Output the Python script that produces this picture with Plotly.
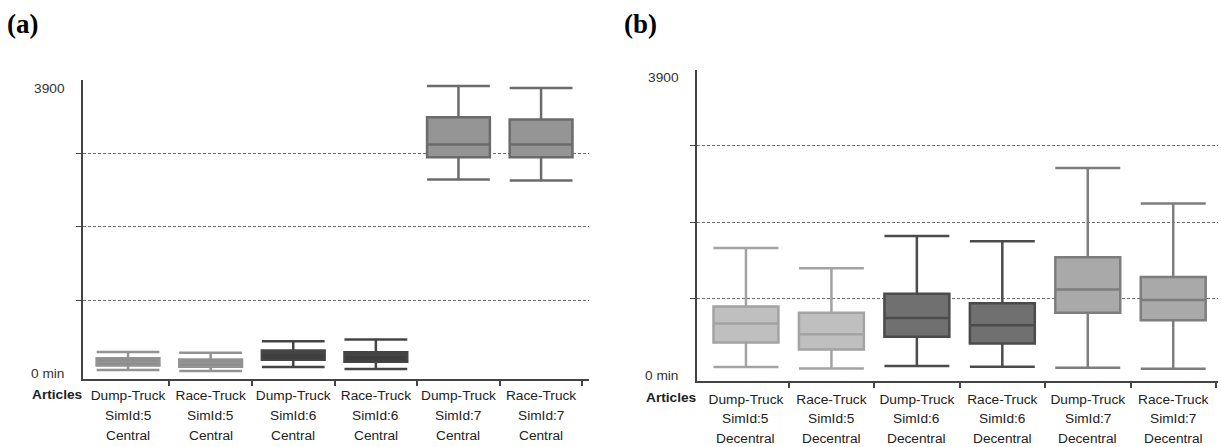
import plotly.graph_objects as go

W, H = 1221, 447

# ---------------- data ----------------
articles = ["Dump-Truck", "Race-Truck", "Dump-Truck", "Race-Truck", "Dump-Truck", "Race-Truck"]
sim_ids = ["SimId:5", "SimId:5", "SimId:6", "SimId:6", "SimId:7", "SimId:7"]
mode_a = "Central"
mode_b = "Decentral"

# panel (a) – Central (minutes)
a_low = [45, 31, 86, 58, 2649, 2635]
a_q1 = [105, 91, 186, 159, 2952, 2952]
a_med = [154, 143, 282, 249, 3129, 3129]
a_q3 = [204, 190, 313, 286, 3501, 3469]
a_high = [290, 282, 439, 463, 3928, 3901]

# panel (b) – Decentral (minutes)
b_low = [104, 87, 117, 109, 96, 83]
b_q1 = [426, 335, 500, 413, 817, 717]
b_med = [674, 535, 748, 652, 1121, 983]
b_q3 = [896, 817, 1065, 939, 1543, 1283]
b_high = [1665, 1400, 1821, 1752, 2712, 2248]

y_tick_vals = [0, 3900]
y_tick_text = ["0 min", "3900"]
grid_vals = [1000, 2000, 3000]

a_fill = ["#8b8b8b", "#8b8b8b", "#3e3e3e", "#3e3e3e", "#959595", "#959595"]
a_line = ["#939393", "#939393", "#454545", "#454545", "#6b6b6b", "#6b6b6b"]
b_fill = ["#bfbfbf", "#bfbfbf", "#707070", "#707070", "#a9a9a9", "#a9a9a9"]
b_line = ["#a3a3a3", "#a3a3a3", "#4b4b4b", "#4b4b4b", "#7d7d7d", "#7d7d7d"]

fig = go.Figure()

def add_boxes(low, q1, med, q3, high, fills, lines, xa, ya):
    for i in range(len(low)):
        fig.add_trace(go.Box(
            x=[i], lowerfence=[low[i]], q1=[q1[i]], median=[med[i]],
            q3=[q3[i]], upperfence=[high[i]],
            fillcolor=fills[i], line=dict(color=lines[i], width=2.5),
            whiskerwidth=1, width=0.76, boxpoints=False,
            xaxis=xa, yaxis=ya, showlegend=False,
        ))

add_boxes(a_low, a_q1, a_med, a_q3, a_high, a_fill, a_line, "x", "y")
add_boxes(b_low, b_q1, b_med, b_q3, b_high, b_fill, b_line, "x2", "y2")

FONT = "Liberation Sans, Arial, sans-serif"
FS = 13.7
AX = "#444444"

def xaxis(domain, rng, anchor, standoff):
    return dict(
        domain=domain, range=rng, anchor=anchor,
        showline=True, linecolor=AX, linewidth=1.5,
        tickmode="array", tickvals=list(range(6)), ticktext=articles,
        ticks="", ticklabelstandoff=standoff, showgrid=False, zeroline=False,
        tickfont=dict(family=FONT, size=FS, color="#222"),
        minor=dict(tickmode="array", tickvals=[i + 0.5 for i in range(6)],
                   ticks="outside", ticklen=5, tickcolor=AX, tickwidth=1.5,
                   showgrid=False),
        fixedrange=True,
    )

def yaxis(domain, rng, anchor):
    return dict(
        domain=domain, range=rng, anchor=anchor,
        showline=True, linecolor=AX, linewidth=1.5,
        tickmode="array", tickvals=y_tick_vals, ticktext=y_tick_text,
        ticks="", ticklabelstandoff=14,
        showgrid=False, zeroline=False,
        tickfont=dict(family=FONT, size=FS, color="#333"),
        minor=dict(tickmode="array", tickvals=grid_vals, ticks="outside",
                   ticklen=5, tickcolor=AX, tickwidth=1,
                   showgrid=True, gridcolor="#6e6e6e", griddash="3px,2px",
                   gridwidth=1),
        fixedrange=True,
    )

fig.update_layout(
    width=W, height=H,
    margin=dict(l=0, r=0, t=0, b=0),
    paper_bgcolor="white", plot_bgcolor="white",
    boxmode="overlay",
    xaxis=xaxis([83 / W, 589 / W], [-0.545, 5.58], "y", 3),
    yaxis=yaxis([1 - 381 / H, 1 - 80 / H], [-82, 4014], "x"),
    xaxis2=xaxis([697 / W, 1218 / W], [-0.573, 5.524], "y2", 5),
    yaxis2=yaxis([1 - 383 / H, 1 - 70 / H], [-82, 3999], "x2"),
)

ann = []
for i in range(6):
    for xr, mode, y1, y2 in (("x", mode_a, 417, 437), ("x2", mode_b, 420, 440)):
        ann.append(dict(x=i, xref=xr, y=1 - y1 / H, yref="paper", text=sim_ids[i],
                        showarrow=False, xanchor="center", yanchor="middle",
                        font=dict(family=FONT, size=FS, color="#222")))
        ann.append(dict(x=i, xref=xr, y=1 - y2 / H, yref="paper", text=mode,
                        showarrow=False, xanchor="center", yanchor="middle",
                        font=dict(family=FONT, size=FS, color="#222")))

for xpos, ypos in ((85, 396), (699, 399)):
    ann.append(dict(x=xpos / W, xref="paper", y=1 - ypos / H, yref="paper",
                    text="<b>Articles</b>", showarrow=False, xanchor="right",
                    yanchor="middle", font=dict(family=FONT, size=FS, color="#222")))

for xpos, txt in ((5, "(a)"), (622, "(b)")):
    ann.append(dict(x=xpos / W, xref="paper", y=1 - 24 / H, yref="paper",
                    text=f"<b>{txt}</b>", showarrow=False, xanchor="left",
                    yanchor="middle",
                    font=dict(family="Liberation Serif, Times New Roman, serif",
                              size=27, color="#000")))

fig.update_layout(annotations=ann)
fig.write_html("out.html", config={"displayModeBar": False},
               post_script="document.body.style.margin='0px';document.body.style.overflow='hidden';")
